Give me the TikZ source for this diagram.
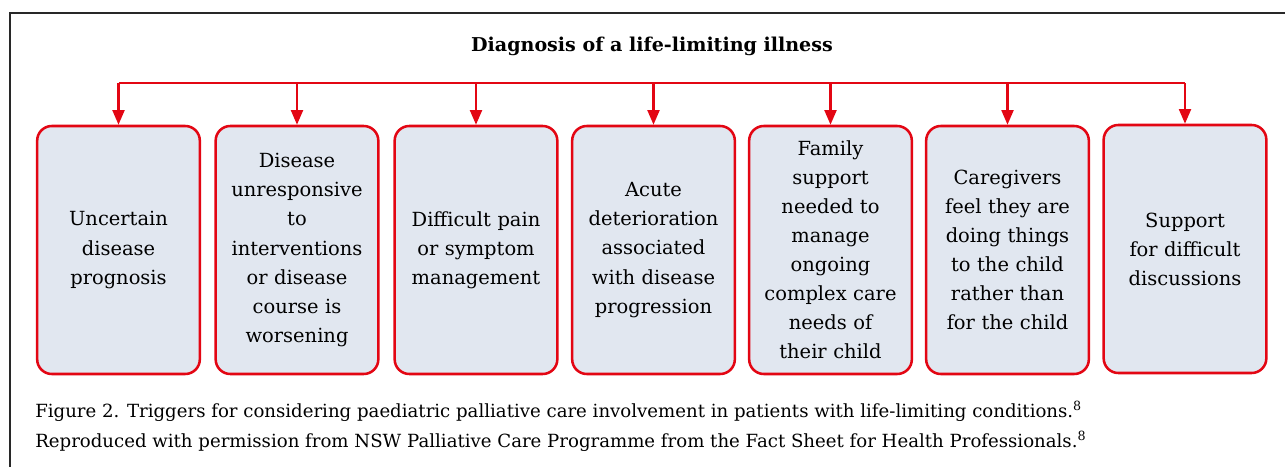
\documentclass[tikz,border=0pt]{standalone}
\usepackage{fontspec}
\setmainfont{DejaVu Serif}
\usetikzlibrary{arrows.meta}

\definecolor{trigred}{RGB}{227,6,19}
\definecolor{trigfill}{RGB}{225,231,240}

\tikzset{
  trigbox/.style={draw=trigred, fill=trigfill, line width=1.9pt, rounded corners=11pt,
    minimum width=122pt, minimum height=186pt, text width=120pt, align=center,
    inner sep=0pt, font=\fontsize{14.6}{21.8}\selectfont},
  feed/.style={draw=trigred, line width=1.6pt},
  feedarrow/.style={feed, -{Triangle[width=9pt,length=11pt]}},
  captext/.style={anchor=base west, inner sep=0pt, font=\fontsize{13.6}{16}\selectfont},
}

\begin{document}
\begin{tikzpicture}[x=0.75pt,y=0.75pt,yscale=-1,xscale=1]
        \useasboundingbox (0,0) rectangle (1285,467);
        % frame
        \draw [line width=1.4pt, color={rgb, 255:red, 40; green, 40; blue, 40 }] (10,467) -- (10,13) -- (1285,13);
        % title
        \node (diag) at (652,46) {\fontsize{14.3}{17}\selectfont\bfseries Diagnosis of a life-limiting illness};
        % triggers
        \node [trigbox] (trig1) at (118.5,250) {Uncertain\\disease\\prognosis};
        \node [trigbox] (trig2) at (297,250) {Disease\\unresponsive\\to\\interventions\\or disease\\course is\\worsening};
        \node [trigbox] (trig3) at (476,250) {Difficult pain\\or symptom\\management};
        \node [trigbox] (trig4) at (653.5,250) {Acute\\deterioration\\associated\\with disease\\progression};
        \node [trigbox] (trig5) at (830.5,250) {Family\\support\\needed to\\manage\\ongoing\\complex care\\needs of\\their child};
        \node [trigbox] (trig6) at (1007.5,250) {Caregivers\\feel they are\\doing things\\to the child\\rather than\\for the child};
        \node [trigbox] (trig7) at (1185,249) {Support\\for difficult\\discussions};
        % feed lines
        \coordinate (bus1) at (118.5,83);
        \coordinate (bus7) at (1185,83);
        \draw [feed] (bus1) -- (bus7);
        \draw [feedarrow] (bus1) -- (trig1.north);
        \draw [feedarrow] (trig2.north |- bus1) -- (trig2.north);
        \draw [feedarrow] (trig3.north |- bus1) -- (trig3.north);
        \draw [feedarrow] (trig4.north |- bus1) -- (trig4.north);
        \draw [feedarrow] (trig5.north |- bus1) -- (trig5.north);
        \draw [feedarrow] (trig6.north |- bus1) -- (trig6.north);
        \draw [feedarrow] (bus7) -- (trig7.north);
        % caption
        \node [captext] (cap1) at (35,417) {Figure 2. Triggers for considering paediatric palliative care involvement in patients with life-limiting conditions.\textsuperscript{8}};
        \node [captext] (cap2) at (35,447) {Reproduced with permission from NSW Palliative Care Programme from the Fact Sheet for Health Professionals.\textsuperscript{8}};
\end{tikzpicture}
\end{document}
